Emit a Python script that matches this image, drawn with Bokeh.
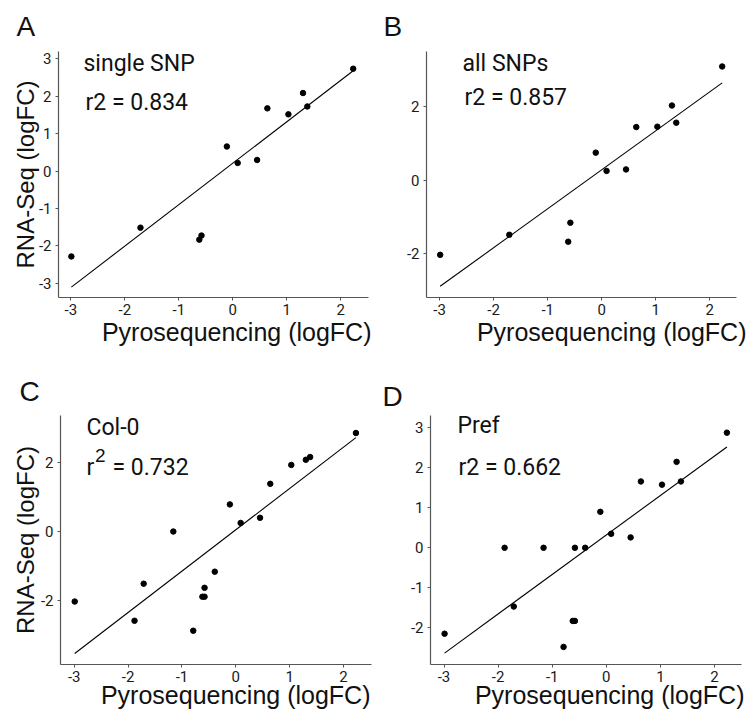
from bokeh.plotting import figure
from bokeh.models import Range1d, FixedTicker, Label, Title
from bokeh.layouts import column, row
from bokeh.embed import file_html
from bokeh.resources import INLINE

# ---------------- data ----------------
pyro_ab = [-2.99, -1.71, -0.62, -0.58, -0.11, 0.09, 0.45, 0.64, 1.03, 1.30, 1.38, 2.23]
rna_single_snp = [-2.28, -1.51, -1.83, -1.72, 0.66, 0.22, 0.30, 1.68, 1.52, 2.09, 1.73, 2.74]
rna_all_snps = [-2.05, -1.50, -1.69, -1.17, 0.75, 0.25, 0.29, 1.45, 1.46, 2.04, 1.57, 3.11]

pyro_cd = [-2.99, -1.88, -1.71, -1.16, -0.79, -0.62, -0.58, -0.58, -0.39, -0.11, 0.09, 0.45, 0.64, 1.03, 1.30, 1.38, 2.23]
rna_col0 = [-2.04, -2.60, -1.52, 0.00, -2.89, -1.90, -1.90, -1.64, -1.17, 0.79, 0.25, 0.40, 1.39, 1.94, 2.09, 2.17, 2.87]
rna_pref = [-2.15, 0.00, -1.47, 0.00, -2.48, -1.83, -1.83, 0.00, 0.00, 0.90, 0.35, 0.26, 1.66, 1.58, 2.15, 1.66, 2.88]

fit_slope = {"A": 1.108, "B": 1.067, "C": 1.205, "D": 0.988}
fit_intercept = {"A": 0.213, "B": 0.28, "C": 0.05, "D": 0.32}

panel_letters = ["A", "B", "C", "D"]
subset_names = ["single SNP", "all SNPs", "Col-0", "Pref"]
r2_values = ["0.834", "0.857", "0.732", "0.662"]

xticks_all = [-3, -2, -1, 0, 1, 2]
yticks_A = [-3, -2, -1, 0, 1, 2, 3]
yticks_B = [-2, 0, 2]
yticks_C = [-2, 0, 2]
yticks_D = [-2, -1, 0, 1, 2, 3]

x_label = "Pyrosequencing (logFC)"
y_label = "RNA-Seq (logFC)"

# ---------------- styling / layout ----------------
W, H = 374, 355
INNER = "Roboto"
REG = "Liberation Sans"

geoms = {
    "A": dict(left=58, right=368, top=51, bottom=297, xr=(-3.228, 2.513), yr=(-3.377, 3.20)),
    "B": dict(left=52, right=362, top=51, bottom=298, xr=(-3.243, 2.495), yr=(-3.218, 3.52)),
    "C": dict(left=60, right=371, top=60, bottom=309, xr=(-3.254, 2.519), yr=(-3.874, 3.38)),
    "D": dict(left=56, right=367, top=60, bottom=309, xr=(-3.25, 2.50), yr=(-2.92, 3.31)),
}

BASE_SHIFT = -8  # empirical correction of Label baseline placement


def to_data(g, lx, ly):
    x = g["xr"][0] + (lx - g["left"]) / (g["right"] - g["left"]) * (g["xr"][1] - g["xr"][0])
    y = g["yr"][1] - (ly - g["top"]) / (g["bottom"] - g["top"]) * (g["yr"][1] - g["yr"][0])
    return x, y


def add_text(p, g, lx, ly, text, font, size, align="left", color="#111111"):
    x, y = to_data(g, lx, ly + BASE_SHIFT)
    p.add_layout(Label(x=x, y=y, text=text, text_font=font, text_font_size=size,
                       text_align=align, text_baseline="alphabetic", text_color=color))


def make_panel(key, xs, ys, yticks, letter, letter_left, letter_standoff, xlab_right, xlab_standoff):
    g = geoms[key]
    p = figure(width=W, height=H, x_range=Range1d(*g["xr"]), y_range=Range1d(*g["yr"]),
               output_backend="svg", toolbar_location=None)
    p.min_border_left = g["left"]
    p.min_border_right = W - g["right"]
    p.min_border_top = g["top"]
    p.min_border_bottom = H - g["bottom"]
    p.outline_line_color = None
    p.grid.visible = False
    p.background_fill_color = "white"
    p.border_fill_color = "white"

    for ax, ticks in ((p.xaxis[0], xticks_all), (p.yaxis[0], yticks)):
        ax.ticker = FixedTicker(ticks=ticks)
        ax.major_label_overrides = {t: str(t) for t in ticks}
        ax.axis_line_color = "#555555"
        ax.axis_line_width = 1.2
        ax.major_tick_line_color = "#555555"
        ax.major_tick_out = 3
        ax.major_tick_in = 0
        ax.minor_tick_line_color = None
        ax.major_label_text_font = INNER
        ax.major_label_text_font_size = "15px"
        ax.major_label_text_color = "#1a1a1a"
    p.xaxis.major_label_standoff = 3
    p.yaxis.major_label_standoff = 4

    # panel letter
    p.add_layout(Title(text=letter, align="left", offset=letter_left - g["left"],
                       vertical_align="top", standoff=letter_standoff,
                       text_font=REG, text_font_size="28px", text_font_style="normal",
                       text_color="#111111"), "above")
    # x axis title
    p.add_layout(Title(text=x_label, align="right", offset=g["right"] - xlab_right,
                       vertical_align="top", standoff=xlab_standoff,
                       text_font=REG, text_font_size="25px", text_font_style="normal",
                       text_color="#111111"), "below")

    # regression line drawn across the data range
    x0, x1 = min(xs), max(xs)
    s, b = fit_slope[key], fit_intercept[key]
    p.line([x0, x1], [b + s * x0, b + s * x1], line_color="black", line_width=1.1)
    p.scatter(xs, ys, size=5.5, color="black")
    return p, g


pA, gA = make_panel("A", pyro_ab, rna_single_snp, yticks_A, panel_letters[0], 16, 16, 371, 1)
pB, gB = make_panel("B", pyro_ab, rna_all_snps, yticks_B, panel_letters[1], 9, 16, 372, 1)
pC, gC = make_panel("C", pyro_cd, rna_col0, yticks_C, panel_letters[2], 19, 14, 370, -7)
pD, gD = make_panel("D", pyro_cd, rna_pref, yticks_D, panel_letters[3], 8, 4, 370, -7)

for p, st in ((pA, -3), (pC, -1)):
    p.yaxis.axis_label = y_label
    p.yaxis.axis_label_text_font = REG
    p.yaxis.axis_label_text_font_size = "24px"
    p.yaxis.axis_label_text_font_style = "normal"
    p.yaxis.axis_label_text_color = "#111111"
    p.yaxis.axis_label_standoff = st

# subset names and r2
add_text(pA, gA, 83, 71, subset_names[0], INNER, "23px")
add_text(pA, gA, 85, 110, "r2 = " + r2_values[0], INNER, "23px")
add_text(pB, gB, 88, 71.5, subset_names[1], INNER, "23px")
add_text(pB, gB, 90, 105, "r2 = " + r2_values[1], INNER, "23px")
add_text(pC, gC, 86, 80, subset_names[2], INNER, "23px")
add_text(pC, gC, 86, 120, "r", INNER, "23px")
add_text(pC, gC, 94.5, 108, "2", REG, "19px")
add_text(pC, gC, 112, 120, "= " + r2_values[2], INNER, "23px")
add_text(pD, gD, 83, 78, subset_names[3], INNER, "23px")
add_text(pD, gD, 84, 120, "r2 = " + r2_values[3], INNER, "23px")

layout = column(row(pA, pB), row(pC, pD))
open("out.html", "w").write(file_html(layout, INLINE))
